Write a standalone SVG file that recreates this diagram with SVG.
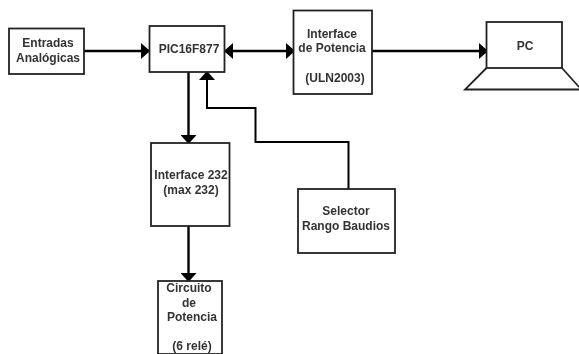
<svg xmlns="http://www.w3.org/2000/svg" width="579" height="354" viewBox="0 0 579 354">
<defs>
<marker id="a" markerUnits="userSpaceOnUse" markerWidth="10" markerHeight="16" refX="8" refY="8" orient="auto-start-reverse"><path d="M0 0L9 8L0 16Z" fill="#000"/></marker>
<filter id="s" x="-5%" y="-5%" width="110%" height="110%"><feGaussianBlur stdDeviation="0.35"/></filter>
</defs>
<style>
.b{fill:#fff;stroke:#222;stroke-width:1.8}
.l{fill:none;stroke:#222;stroke-width:1.8}
.c{fill:none;stroke:#000;stroke-width:2.4}
.t{font:bold 12px "Liberation Sans",Arial,sans-serif;fill:#333;text-anchor:middle}
</style>
<rect width="579" height="354" fill="#fff"/>
<g filter="url(#s)">
<g id="connectors">
<path class="c" d="M84 51H149" marker-end="url(#a)"/>
<path class="c" d="M225 51H294" marker-start="url(#a)" marker-end="url(#a)"/>
<path class="c" d="M372 51H487" marker-end="url(#a)"/>
<path class="c" d="M188.500 72V143" marker-end="url(#a)"/>
<path class="c" style="stroke-width:2" d="M348.500 189V142H255.500V108H207V72" marker-end="url(#a)"/>
<path class="c" d="M188.500 226V281" marker-end="url(#a)"/>
</g>
<g id="entradas"><rect class="b" x="9" y="28.500" width="75" height="45.500"/><text class="t" x="48" y="47">Entradas</text><text class="t" x="48" y="62">Analógicas</text></g>
<g id="pic"><rect class="b" x="149.500" y="26" width="75" height="46"/><text class="t" x="189" y="53">PIC16F877</text></g>
<g id="potencia"><rect class="b" x="293.500" y="10.500" width="78.500" height="83.500"/><text class="t" x="332" y="38">Interface</text><text class="t" x="332" y="52">de Potencia</text><text class="t" x="335" y="82">(ULN2003)</text></g>
<g id="pc"><rect class="b" x="486.500" y="22" width="75.500" height="46"/><path class="l" d="M486.500 68L465 89.500H579M562 68L579 87"/><text class="t" x="525" y="50">PC</text></g>
<g id="interface232"><rect class="b" x="151" y="143" width="78.500" height="83"/><text class="t" x="191" y="179">Interface 232</text><text class="t" x="191" y="194">(max 232)</text></g>
<g id="selector"><rect class="b" x="298" y="189" width="97" height="64"/><text class="t" x="346" y="215">Selector</text><text class="t" x="346" y="230">Rango Baudios</text></g>
<g id="circuito"><rect class="b" x="158" y="281" width="64" height="73"/><text class="t" x="189" y="292">Circuito</text><text class="t" x="189" y="307">de</text><text class="t" x="192" y="321">Potencia</text><text class="t" x="192" y="350">(6 relé)</text></g>
</g>
</svg>
